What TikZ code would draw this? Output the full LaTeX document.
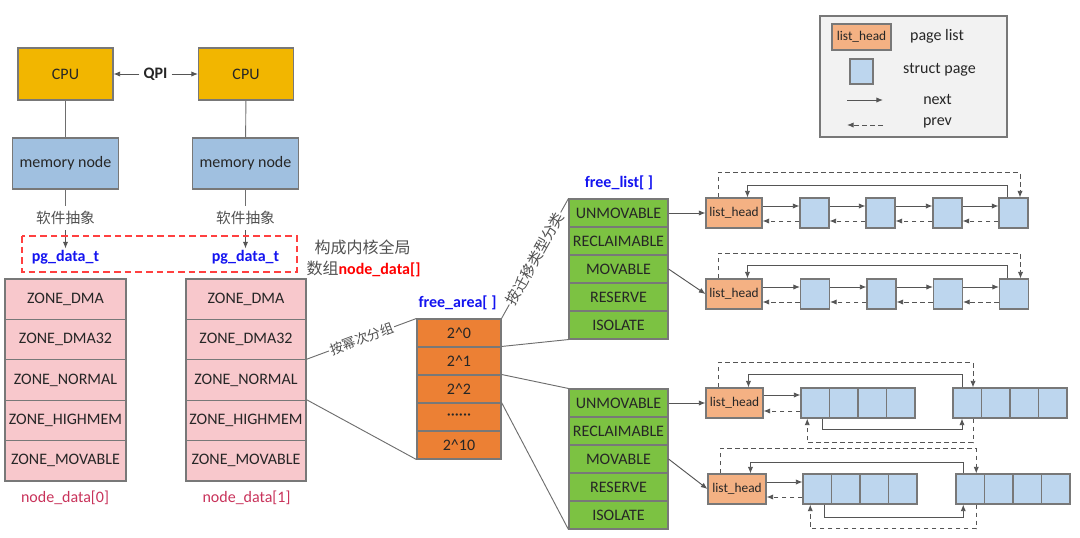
\documentclass[tikz,border=0pt]{standalone}
\usepackage{fontspec}
\setmainfont{Carlito}
\newfontfamily\cjk{Noto Sans CJK SC}
\usetikzlibrary{arrows.meta,calc}
\definecolor{cpuc}{RGB}{242,182,0}
\definecolor{memc}{RGB}{160,192,224}
\definecolor{zonec}{RGB}{248,200,204}
\definecolor{areac}{RGB}{236,128,52}
\definecolor{greenc}{RGB}{124,194,66}
\definecolor{headc}{RGB}{244,177,131}
\definecolor{pagec}{RGB}{189,214,238}
\definecolor{legbg}{RGB}{242,242,242}
\definecolor{bordc}{RGB}{120,120,120}
\definecolor{linec}{RGB}{85,85,85}
\definecolor{txtc}{RGB}{38,38,38}
\definecolor{grayt}{RGB}{80,80,80}
\definecolor{bluet}{RGB}{20,20,240}
\definecolor{ndc}{RGB}{200,50,90}
\begin{document}
\begin{tikzpicture}[x=0.75pt,y=-0.75pt,
  box/.style={draw=bordc, line width=0.8pt, inner sep=0pt, text=txtc, font=\fontsize{12}{14}\selectfont},
  cpubox/.style={box, fill=cpuc, minimum width=71.25pt, minimum height=39pt},
  membox/.style={box, fill=memc, minimum width=79.5pt, minimum height=38.25pt},
  zone/.style={box, fill=zonec, minimum height=30.3pt},
  area/.style={box, fill=areac, minimum width=63pt, minimum height=21pt},
  gcell/.style={box, fill=greenc, minimum width=74.25pt, minimum height=21pt},
  lhead/.style={box, fill=headc, minimum width=42pt, minimum height=22.5pt, font=\fontsize{10}{12}\selectfont},
  pg/.style={box, fill=pagec, minimum width=21.75pt, minimum height=22.5pt},
  arr/.style={draw=linec, line width=0.7pt, -{Latex[length=5pt,width=4pt]}},
  darr/.style={arr, dash pattern=on 3.5pt off 2.5pt},
  conn/.style={draw=linec!85, line width=0.7pt},
  lbl/.style={inner sep=1pt, text=txtc, font=\fontsize{12}{14}\selectfont},
  cjkl/.style={inner sep=1pt, text=grayt, font=\cjk\fontsize{11}{13}\selectfont},
  bluel/.style={inner sep=1pt, text=bluet, font=\bfseries\fontsize{12}{14}\selectfont}
]
\useasboundingbox (0,0) rectangle (1080,537);

% CPUs and memory nodes
\node[cpubox] (cpu1) at (65.5,74) {CPU};
\node[cpubox] (cpu2) at (246,74) {CPU};
\node[lbl, font=\bfseries\fontsize{12}{14}\selectfont, inner sep=3pt] (qpi) at (155.5,74) {QPI};
\draw[arr] (qpi.west) -- (cpu1.east);
\draw[arr] (qpi.east) -- (cpu2.west);
\node[membox] (mem1) at (65.5,163.5) {memory node};
\node[membox] (mem2) at (245.5,163.5) {memory node};
\draw[conn] (cpu1) -- (mem1);
\draw[conn] (cpu2) -- (mem2);

\node[cjkl, inner sep=4pt] (sw1) at (65.5,218) {软件抽象};
\node[cjkl, inner sep=4pt] (sw2) at (245.5,218) {软件抽象};
\node[bluel] (pg1) at (65.5,257) {pg\_data\_t};
\node[bluel] (pg2) at (245.5,257) {pg\_data\_t};
\draw[conn] (mem1) -- (sw1);
\draw[conn] (mem2) -- (sw2);
\draw[arr] (sw1) -- (pg1.north);
\draw[arr] (sw2) -- (pg2.north);
\draw[red!75, line width=0.8pt, dash pattern=on 5pt off 3pt] (22,236) rectangle (297,272);

\node[cjkl, font=\cjk\fontsize{12}{14}\selectfont] (gl1) at (362.5,247) {构成内核全局};
\node[cjkl, font=\cjk\fontsize{12}{14}\selectfont] (gl2) at (363.5,269) {数组{\fontspec{Carlito}\bfseries\color{red}node\_data[]}};

% zone stacks
\foreach \t [count=\i] in {ZONE\_DMA, ZONE\_DMA32, ZONE\_NORMAL, ZONE\_HIGHMEM, ZONE\_MOVABLE} {
  \node[zone, minimum width=90.75pt] (za-\i) at (65.5, {279+40.4*(\i-0.5)}) {\t};
  \node[zone, minimum width=90pt] (zb-\i) at (246, {279+40.4*(\i-0.5)}) {\t};
}
\node[lbl, text=ndc] (nd0) at (65,498) {node\_data[0]};
\node[lbl, text=ndc] (nd1) at (246.5,498) {node\_data[1]};

% free_area
\foreach \t [count=\i] in {2\textasciicircum 0, 2\textasciicircum 1, 2\textasciicircum 2, \textperiodcentered\textperiodcentered\textperiodcentered\textperiodcentered\textperiodcentered\textperiodcentered, 2\textasciicircum 10} {
  \node[area] (fa-\i) at (459, {319+28*(\i-0.5)}) {\t};
}
\node[bluel] (falbl) at (457.5,303) {free\_area[ ]};

% free_list stacks
\foreach \t [count=\i] in {UNMOVABLE, RECLAIMABLE, MOVABLE, RESERVE, ISOLATE} {
  \node[gcell] (fla-\i) at (618.5, {199+28*(\i-0.5)}) {\t};
  \node[gcell] (flb-\i) at (618.5, {389+28*(\i-0.5)}) {\t};
}
\node[bluel] (fllbl) at (619,183) {free\_list[ ]};

% connectors between stacks
\draw[conn] (zb-3.north east) -- node[sloped, fill=white, inner sep=1pt, text=grayt, font=\cjk\fontsize{10}{12}\selectfont] {按幂次分组} (fa-1.north west);
\draw[conn] (zb-4.north east) -- (fa-5.south west);
\draw[conn] (fa-1.north east) -- node[sloped, fill=white, inner sep=1pt, text=grayt, font=\cjk\fontsize{11}{13}\selectfont] {按迁移类型分类} (fla-1.north west);
\draw[conn] (fa-2.north east) -- (fla-5.south west);
\draw[conn] (fa-3.north east) -- (flb-1.north west);
\draw[conn] (fa-4.north east) -- (flb-5.south west);

% list 1
\node[lhead] (lh1) at (734,213) {list\_head};
\foreach \i/\x in {1/814.5,2/880.5,3/947.5,4/1013.5} \node[pg] (s1\i) at (\x,213) {};
\foreach \a/\b in {lh1/s11, s11/s12, s12/s13, s13/s14} {
  \draw[arr] ([yshift=5.25pt]\a.east) -- ([yshift=5.25pt]\b.west);
  \draw[darr] ([yshift=-6pt]\b.west) -- ([yshift=-6pt]\a.east);
}
\draw[darr] ($(lh1.north west)+(13,0)$) -- ++(0,-25) -| ($(s14.north)+(6.5,0)$);
\draw[arr] ($(s14.north)+(-6.5,0)$) -- ++(0,-12) -| ($(lh1.north west)+(42,0)$);

% list 2
\node[lhead] (lh2) at (734,294) {list\_head};
\foreach \i/\x in {1/815,2/881.5,3/948,4/1014} \node[pg] (s2\i) at (\x,294) {};
\foreach \a/\b in {lh2/s21, s21/s22, s22/s23, s23/s24} {
  \draw[arr] ([yshift=5.25pt]\a.east) -- ([yshift=5.25pt]\b.west);
  \draw[darr] ([yshift=-6pt]\b.west) -- ([yshift=-6pt]\a.east);
}
\draw[darr] ($(lh2.north west)+(13,0)$) -- ++(0,-25) -| ($(s24.north)+(6.5,0)$);
\draw[arr] ($(s24.north)+(-6.5,0)$) -- ++(0,-13) -| ($(lh2.north west)+(42,0)$);

% list 3 (blocks)
\node[lhead, minimum width=42.75pt] (lh3) at (734.5,403) {list\_head};
\foreach \i in {1,...,4} {
  \node[pg, minimum width=21.375pt] (a3\i) at ({801+28.5*(\i-0.5)},403) {};
  \node[pg, minimum width=21.375pt] (b3\i) at ({953+28.5*(\i-0.5)},403) {};
}
\draw[arr] ([yshift=6pt]lh3.east) -- ([yshift=6pt]a31.west);
\draw[darr] ([yshift=-6pt]a31.west) -- ([yshift=-6pt]lh3.east);
\draw[darr] ($(lh3.north west)+(13,0)$) -- ++(0,-25) -| ($(b31.north)+(5.75,0)$);
\draw[arr] ($(b31.north)+(-5.25,0)$) -- ++(0,-13) -| ($(lh3.north west)+(43,0)$);
\draw[arr] ($(a31.south)+(6.75,0)$) -- ++(0,11) -| ($(b31.south)+(-5.25,0)$);
\draw[darr] ($(b31.south)+(5.75,0)$) -- ++(0,24) -| ($(a31.south)+(-8,0)$);

% list 4 (blocks)
\node[lhead, minimum width=43.5pt] (lh4) at (737,489) {list\_head};
\foreach \i in {1,...,4} {
  \node[pg, minimum width=21.375pt] (a4\i) at ({803+28.5*(\i-0.5)},489) {};
  \node[pg, minimum width=21.375pt] (b4\i) at ({956+28.5*(\i-0.5)},489) {};
}
\draw[arr] ([yshift=5.25pt]lh4.east) -- ([yshift=5.25pt]a41.west);
\draw[darr] ([yshift=-6pt]a41.west) -- ([yshift=-6pt]lh4.east);
\draw[darr] ($(lh4.north west)+(13,0)$) -- ++(0,-25) -| ($(b41.north)+(6,0)$);
\draw[arr] ($(b41.north)+(-7,0)$) -- ++(0,-11) -| ($(lh4.north west)+(43,0)$);
\draw[arr] ($(a41.south)+(7,0)$) -- ++(0,13) -| ($(b41.south)+(-7,0)$);
\draw[darr] ($(b41.south)+(6,0)$) -- ++(0,24) -| ($(a41.south)+(-7,0)$);

% green to list heads
\draw[arr] (fla-1.east) -- (lh1.west);
\draw[arr] (fla-3.east) -- (lh2.west);
\draw[arr] (flb-1.east) -- (lh3.west);
\draw[arr] (flb-3.east) -- (lh4.west);

% legend
\draw[draw=bordc, fill=legbg, line width=0.8pt] (820,16) rectangle (1007,137);
\node[lhead, minimum width=44.25pt, minimum height=19.5pt] (lgh) at (861.5,37) {list\_head};
\node[pg, minimum width=17.25pt, minimum height=18.75pt] (lgp) at (861.5,71.5) {};
\coordinate (n1) at (847,100); \coordinate (n2) at (883,100);
\draw[arr] (n1) -- (n2);
\coordinate (p1) at (883,125); \coordinate (p2) at (847,125);
\draw[darr] (p1) -- (p2);
\node[lbl] (lt1) at (937,36) {page list};
\node[lbl] (lt2) at (939.5,70) {struct page};
\node[lbl] (lt3) at (937.5,99) {next};
\node[lbl] (lt4) at (937.5,123) {prev};
\end{tikzpicture}
\end{document}
